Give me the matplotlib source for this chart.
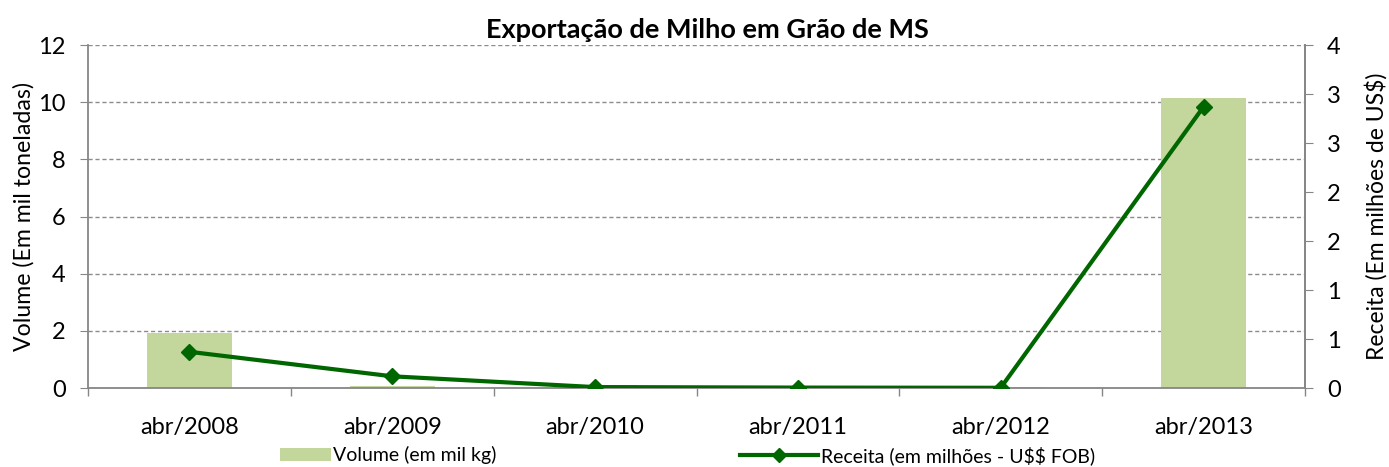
import matplotlib.pyplot as plt
import numpy as np
from matplotlib.patches import Patch
from matplotlib.lines import Line2D
from matplotlib.ticker import FuncFormatter, FixedLocator

plt.rcParams['font.family'] = ['Lato', 'DejaVu Sans']
plt.rcParams['text.parse_math'] = False

# Data
years = ["abr/2008", "abr/2009", "abr/2010", "abr/2011", "abr/2012", "abr/2013"]
volume = [1.93, 0.08, 0.10, 0.02, 0.05, 10.15]      # mil toneladas
receita = [0.37, 0.12, 0.01, 0.005, 0.003, 2.87]    # milhões US$

bar_color = "#C3D69B"
line_color = "#006600"
axis_gray = "#868686"

fig = plt.figure(figsize=(13.89, 4.67), dpi=100)
ax = fig.add_axes([0.0634, 0.169, 0.8761, 0.7346])
x = np.arange(len(years))

ax.bar(x, volume, width=0.42, color=bar_color, zorder=2)
ax.set_xlim(-0.5, len(years) - 0.5)
ax.set_ylim(0, 12)
ax.set_yticks(np.arange(0, 13, 2))
ax.grid(axis="y", linestyle=(0, (3, 2)), color="#8C8C8C", linewidth=1, zorder=0)
ax.set_axisbelow(True)

# category ticks between groups, labels at centres
ax.xaxis.set_major_locator(FixedLocator(np.arange(-0.5, len(years), 1.0)))
ax.xaxis.set_minor_locator(FixedLocator(x))
ax.xaxis.set_major_formatter(FuncFormatter(lambda v, p: ""))
ax.set_xticklabels(years, minor=True)
ax.tick_params(axis="x", which="major", length=6, color=axis_gray, width=1)
ax.tick_params(axis="x", which="minor", length=0, labelsize=17, pad=21)
ax.tick_params(axis="y", length=6, color=axis_gray, labelsize=17, pad=10)

ax.spines["top"].set_visible(False)
for s in ["left", "bottom", "right"]:
    ax.spines[s].set_color(axis_gray)
    ax.spines[s].set_linewidth(1.3)

ax.set_ylabel("Volume (Em mil toneladas)", fontsize=16.7, labelpad=3)

ax2 = ax.twinx()
ax2.plot(x, receita, color=line_color, linewidth=3, marker="D",
         markersize=8, zorder=3)
ax2.set_ylim(0, 3.5)
ax2.set_yticks(np.arange(0, 3.51, 0.5))
ax2.yaxis.set_major_formatter(FuncFormatter(lambda v, p: f"{int(np.floor(v + 0.5 + 1e-9))}"))
ax2.tick_params(axis="y", length=6, color=axis_gray, labelsize=17, pad=10)
for s in ["top", "left", "bottom"]:
    ax2.spines[s].set_visible(False)
ax2.spines["right"].set_color(axis_gray)
ax2.spines["right"].set_linewidth(1.3)
ax2.set_ylabel("Receita (Em milhões de US$)", fontsize=16.5, labelpad=17)

ax.set_title("Exportação de Milho em Grão de MS", fontsize=19.5,
             fontweight="bold", pad=5, x=0.509)

leg1 = fig.legend([Patch(facecolor=bar_color, edgecolor="none")],
                  ["Volume (em mil kg)"], loc="center left",
                  bbox_to_anchor=(0.2016, 0.025), frameon=False, fontsize=14,
                  handlelength=2.6, handletextpad=0.15, borderpad=0,
                  borderaxespad=0)
leg2 = fig.legend([Line2D([], [], color=line_color, linewidth=3, marker="D",
                          markersize=7)],
                  ["Receita (em milhões - U$$ FOB)"], loc="center left",
                  bbox_to_anchor=(0.5328, 0.025), frameon=False, fontsize=14,
                  handlelength=4.0, handletextpad=0.15, borderpad=0,
                  borderaxespad=0)

fig.savefig("out.png", dpi=100)
